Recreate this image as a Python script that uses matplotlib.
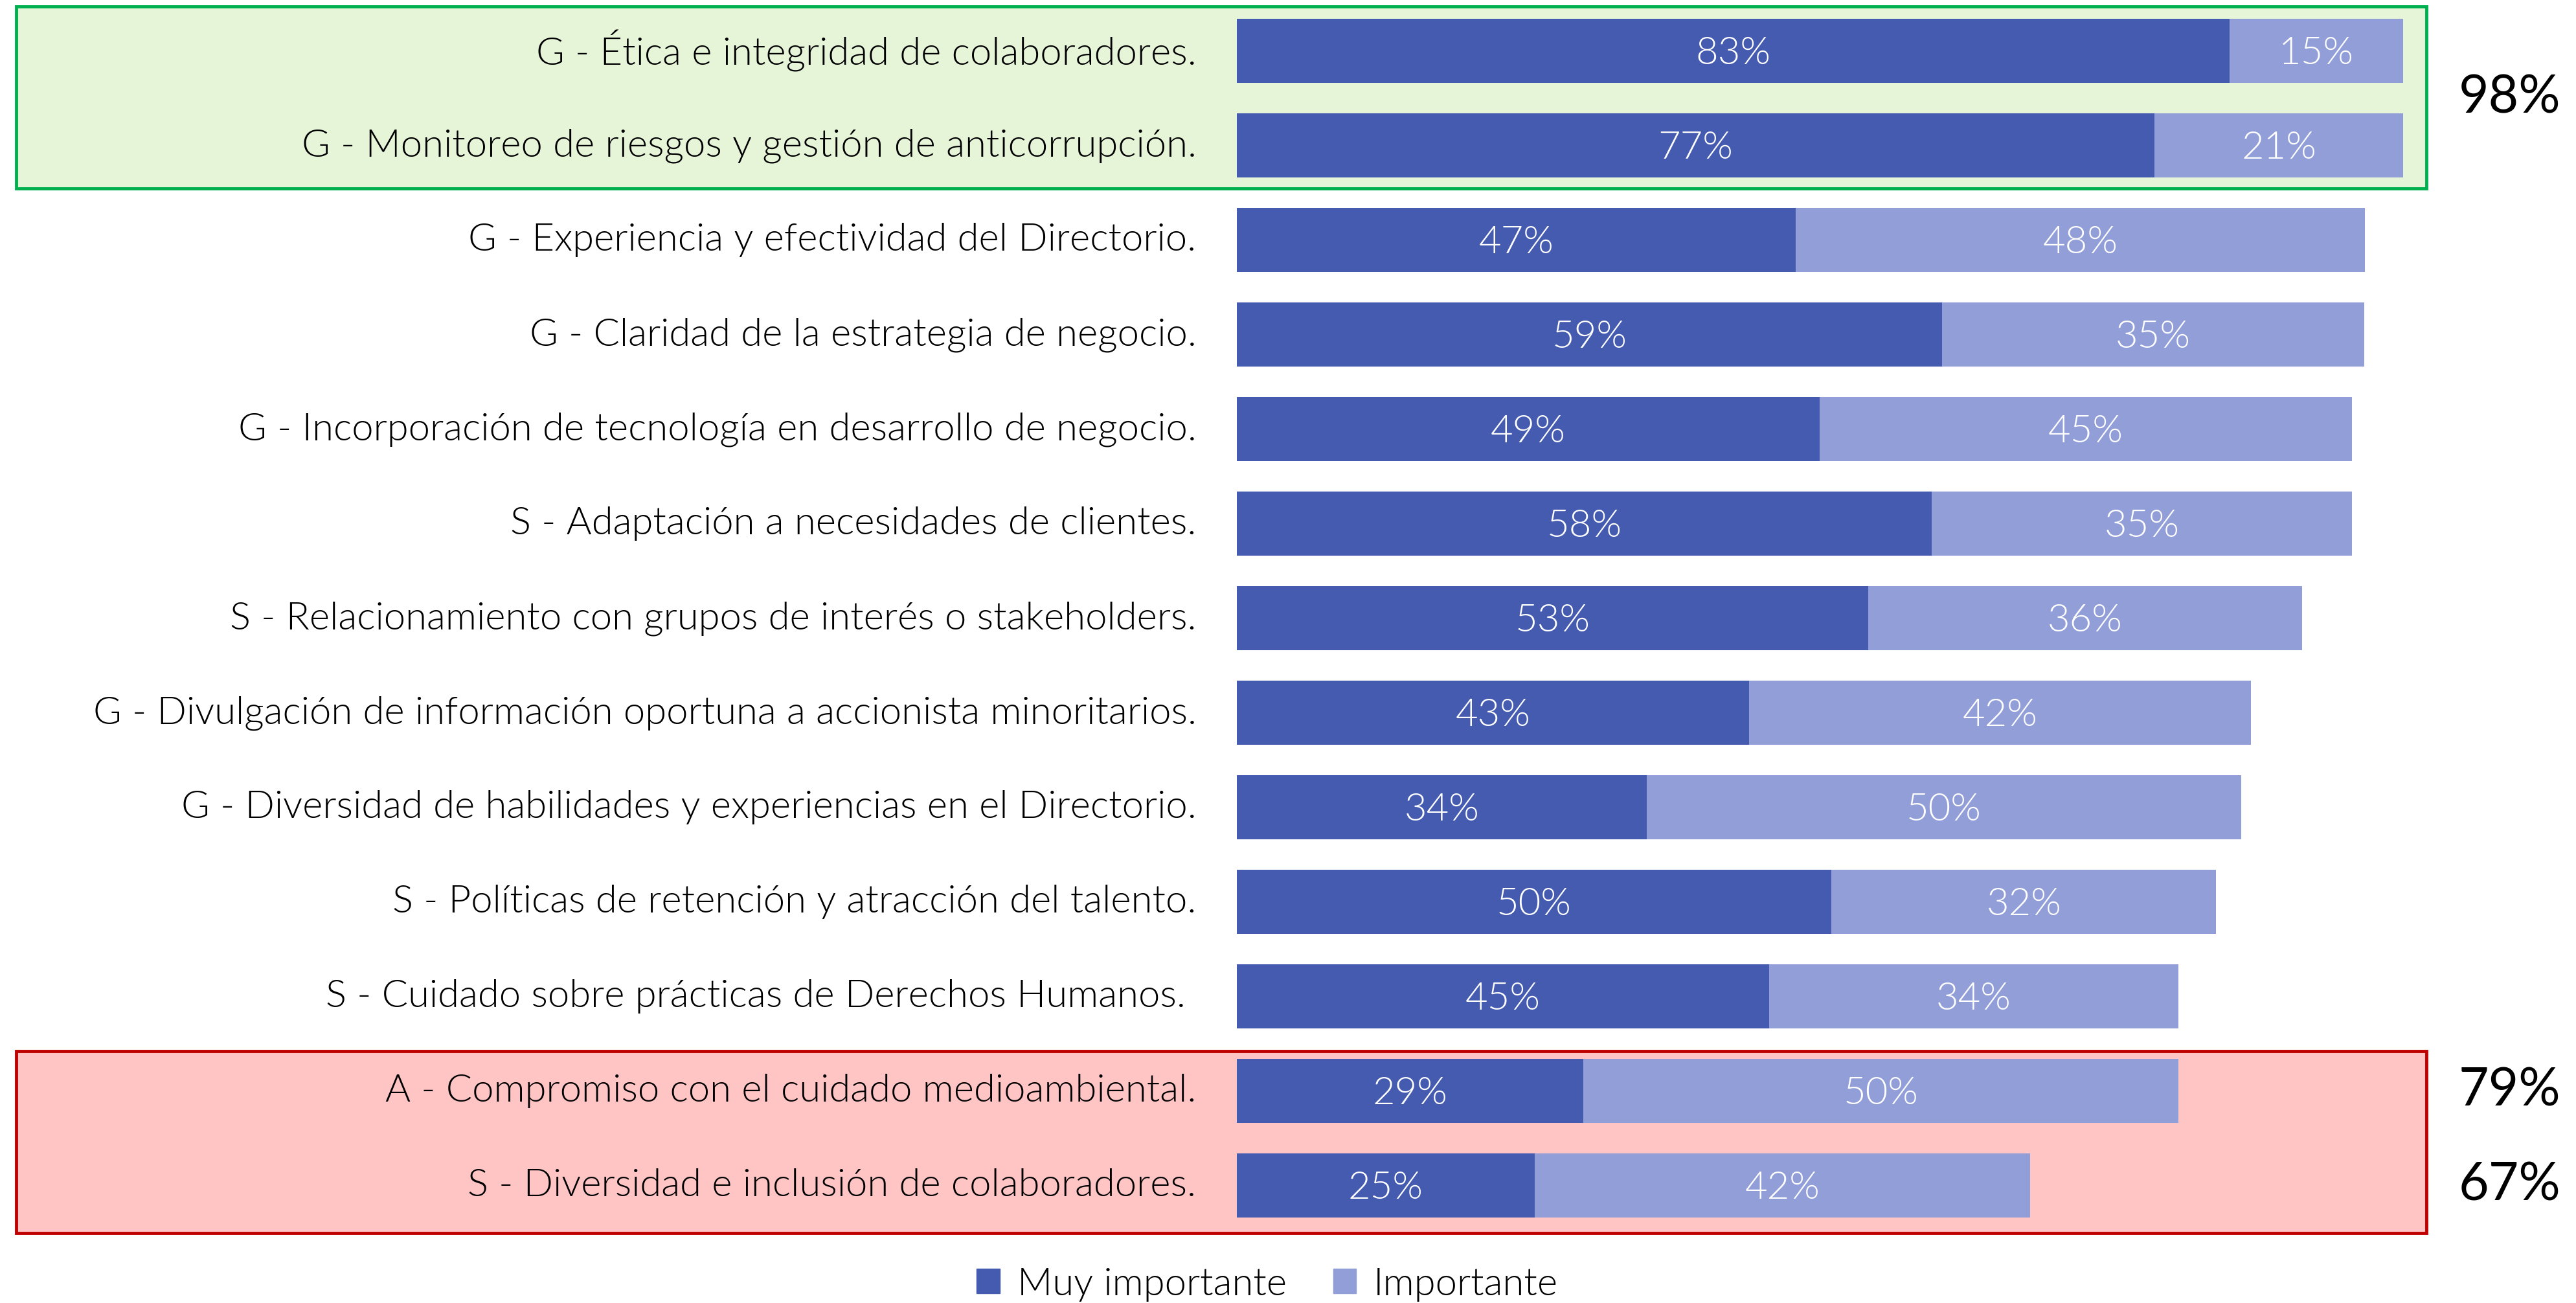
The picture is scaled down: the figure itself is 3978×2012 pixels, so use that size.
import matplotlib
matplotlib.use("Agg")
import matplotlib.pyplot as plt
from matplotlib.patches import Rectangle, Patch
from matplotlib.transforms import blended_transform_factory, ScaledTranslation
from matplotlib import font_manager

categories = [
    "G - Ética e integridad de colaboradores.",
    "G - Monitoreo de riesgos y gestión de anticorrupción.",
    "G - Experiencia y efectividad del Directorio.",
    "G - Claridad de la estrategia de negocio.",
    "G - Incorporación de tecnología en desarrollo de negocio.",
    "S - Adaptación a necesidades de clientes.",
    "S - Relacionamiento con grupos de interés o stakeholders.",
    "G - Divulgación de información oportuna a accionista minoritarios.",
    "G - Diversidad de habilidades y experiencias en el Directorio.",
    "S - Políticas de retención y atracción del talento.",
    "S - Cuidado sobre prácticas de Derechos Humanos. ",
    "A - Compromiso con el cuidado medioambiental.",
    "S - Diversidad e inclusión de colaboradores.",
]
muy_importante = [83.3, 77.0, 46.9, 59.2, 48.9, 58.3, 53.0, 43.0, 34.4, 49.9, 44.7, 29.1, 25.0]
importante = [14.6, 20.9, 47.8, 35.4, 44.7, 35.3, 36.4, 42.1, 49.9, 32.3, 34.3, 49.9, 41.6]
series_names = ["Muy importante", "Importante"]
group_labels = ["98%", "79%", "67%"]
group_label_rows = [0.5, 11, 12]

C_DARK = "#455BB0"
C_LIGHT = "#929ED8"

names = {f.name for f in font_manager.fontManager.ttflist}
fam = "Lato" if "Lato" in names else "DejaVu Sans"
plt.rcParams["font.family"] = [fam, "DejaVu Sans"]
WT = 300

W, H = 3978, 2012
fig = plt.figure(figsize=(W / 100, H / 100), dpi=100)

x0 = 1910
px_per_pct = 18.4
row0 = 78.5
row_h = 146
n = len(categories)
top = row0 - row_h / 2
bot = row0 + (n - 1) * row_h + row_h / 2
ax = fig.add_axes([x0 / W, 1 - bot / H, 100 * px_per_pct / W, (bot - top) / H])
ax.set_xlim(0, 100)
ax.set_ylim(n - 0.5, -0.5)
ax.patch.set_visible(False)
for s in ax.spines.values():
    s.set_visible(False)
ax.set_xticks([])

ypos = list(range(n))
FS = 43
ax.barh(ypos, muy_importante, height=0.68, color=C_DARK, label=series_names[0], zorder=2)
ax.barh(ypos, importante, left=muy_importante, height=0.68, color=C_LIGHT,
        label=series_names[1], zorder=2)

for i in range(n):
    a, b = muy_importante[i], importante[i]
    ax.text(a / 2, i + 0.03, f"{a:.0f}%", ha="center", va="center", color="white",
            fontsize=FS, fontweight=WT, zorder=3)
    ax.text(a + b / 2, i + 0.03, f"{b:.0f}%", ha="center", va="center", color="white",
            fontsize=FS, fontweight=WT, zorder=3)

ax.set_yticks(ypos)
ax.set_yticklabels(categories, fontsize=FS, fontweight=WT, color="#000000")
ax.tick_params(axis="y", length=0, pad=45)
shift = ScaledTranslation(0, 5 / 100, fig.dpi_scale_trans)
for lab in ax.get_yticklabels():
    lab.set_transform(lab.get_transform() + shift)

bt = blended_transform_factory(fig.transFigure, ax.transData)
bx0, bx1 = 25 / W, 3747 / W
fig.patches.append(Rectangle((bx0, -0.47), bx1 - bx0, 1.925, transform=bt,
                             facecolor="#E6F4D8", edgecolor="#00B050", linewidth=3.5,
                             zorder=-1))
fig.patches.append(Rectangle((bx0, 10.58), bx1 - bx0, 1.92, transform=bt,
                             facecolor="#FFC5C5", edgecolor="#C00000", linewidth=3.5,
                             zorder=-1))

for lab, r in zip(group_labels, group_label_rows):
    ax.text(3797 / W, r, lab, transform=bt, ha="left", va="center",
            fontsize=58, color="black")

handles = [Patch(color=C_DARK), Patch(color=C_LIGHT)]
fig.legend(handles, series_names, loc="center", bbox_to_anchor=(0.492, 1 - 1983 / H),
           ncol=2, frameon=False, prop={"weight": WT, "size": FS},
           handlelength=0.6, handleheight=0.6, handletextpad=0.45, columnspacing=1.2,
           borderpad=0)

fig.savefig("out.png", dpi=100)
